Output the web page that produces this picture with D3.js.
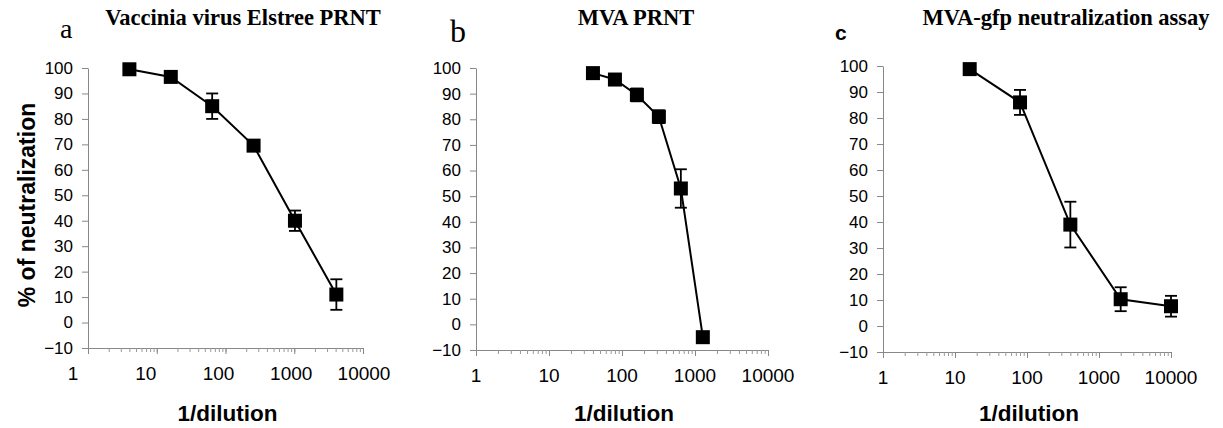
<!DOCTYPE html>
<html>
<head>
<meta charset="utf-8">
<script src="https://cdn.jsdelivr.net/npm/d3@7"></script>
<style>
body { margin: 0; background: #fff; }
</style>
</head>
<body>
<div id="chart"></div>
<script>
// panel a - vaccinia Elstree PRNT
var dilA = [4, 16, 64, 256, 1024, 4096];
var neutA = [99.5, 96.5, 85, 69.5, 40, 11];
var errA = [0, 1, 5, 1.5, 4, 6];

// panel b - MVA PRNT
var dilB = [40, 80, 160, 320, 640, 1280];
var neutB = [98, 95.5, 89.5, 81, 53, -5];
var errB = [1, 1, 2.5, 2.5, 7.5, 0];

// panel c - MVA-gfp assay
var dilC = [16, 80, 400, 2000, 10000];
var neutC = [98.8, 86, 39, 10.3, 7.6];
var errC = [0.5, 4.8, 8.8, 4.6, 4];

var xTicks = [1, 10, 100, 1000, 10000];
var yTicks = [-10, 0, 10, 20, 30, 40, 50, 60, 70, 80, 90, 100];
var titles = ["Vaccinia virus Elstree PRNT", "MVA PRNT", "MVA-gfp neutralization assay"];
var letters = ["a", "b", "c"];

var width = 1223;
var height = 428;

var panels = [
    { dil: dilA, val: neutA, err: errA, x0: 88, x1: 363, y0: 348, y1: 68, lab: [73, 364],
      tx: 243, lx: 60, ly: 38, lfont: "Liberation Serif", lsize: 28, lweight: "normal" },
    { dil: dilB, val: neutB, err: errB, x0: 476, x1: 768, y0: 350, y1: 68, lab: [476, 768],
      tx: 636, lx: 450, ly: 42, lfont: "Liberation Serif", lsize: 32, lweight: "normal" },
    { dil: dilC, val: neutC, err: errC, x0: 883, x1: 1171, y0: 352, y1: 66, lab: [883, 1171],
      tx: 1066, lx: 835, ly: 40, lfont: "Liberation Sans", lsize: 21, lweight: "bold" }
];

var svg = d3.select("#chart").append("svg")
    .attr("width", width)
    .attr("height", height)
    .style("font-family", "Liberation Sans, Arial, sans-serif");

function drawPanel(p, i) {
    var x = d3.scaleLog().domain([1, 10000]).range([p.x0, p.x1]);
    var xl = d3.scaleLog().domain([1, 10000]).range(p.lab);
    var y = d3.scaleLinear().domain([-10, 100]).range([p.y0, p.y1]);

    var pts = p.dil.map(function (d, k) { return { d: d, v: p.val[k], e: p.err[k] }; });

    // minor ticks
    svg.append("g")
        .attr("transform", `translate(0,${p.y0})`)
        .call(d3.axisBottom(x).tickValues(x.ticks()).tickSize(4).tickFormat(""))
        .call(g => g.selectAll("line").attr("stroke", "#999"))
        .call(g => g.select(".domain").attr("stroke", "#888"));

    svg.append("g")
        .attr("transform", `translate(0,${p.y0})`)
        .call(d3.axisBottom(x).tickValues(xTicks).tickSize(6).tickSizeOuter(0).tickFormat(""))
        .call(g => g.selectAll("line").attr("stroke", "#888"))
        .call(g => g.select(".domain").remove());

    svg.append("g").selectAll("text")
        .data(xTicks)
        .enter().append("text")
        .attr("x", d => xl(d))
        .attr("y", p.y0 + 32)
        .attr("text-anchor", "middle")
        .attr("font-size", 19)
        .attr("fill", "#000")
        .text(d => d);

    svg.append("g")
        .attr("transform", `translate(${p.x0},0)`)
        .call(d3.axisLeft(y).tickValues(yTicks).tickSize(6).tickSizeOuter(0).tickPadding(9))
        .call(g => g.selectAll("line").attr("stroke", "#888"))
        .call(g => g.select(".domain").attr("stroke", "#888"))
        .call(g => g.selectAll("text")
            .attr("font-family", "Liberation Sans, Arial, sans-serif")
            .attr("font-size", 17)
            .attr("fill", "#000"));

    svg.append("path")
        .datum(pts)
        .attr("fill", "none")
        .attr("stroke", "#000")
        .attr("stroke-width", 2)
        .attr("d", d3.line()
            .x(function (d) { return x(d.d) })
            .y(function (d) { return y(d.v) })
        );

    var eb = svg.append("g").attr("stroke", "#000").attr("stroke-width", 1.8);
    pts.filter(d => d.e > 0).forEach(function (d) {
        var cx = x(d.d);
        eb.append("line").attr("x1", cx).attr("x2", cx)
            .attr("y1", y(d.v - d.e)).attr("y2", y(d.v + d.e));
        eb.append("line").attr("x1", cx - 6).attr("x2", cx + 6)
            .attr("y1", y(d.v + d.e)).attr("y2", y(d.v + d.e));
        eb.append("line").attr("x1", cx - 6).attr("x2", cx + 6)
            .attr("y1", y(d.v - d.e)).attr("y2", y(d.v - d.e));
    });

    svg.append("g").selectAll("rect")
        .data(pts)
        .enter().append("rect")
        .attr("x", d => x(d.d) - 7)
        .attr("y", d => y(d.v) - 7)
        .attr("width", 14)
        .attr("height", 14)
        .attr("fill", "#000");

    svg.append("text")
        .attr("x", p.tx)
        .attr("y", 25)
        .attr("text-anchor", "middle")
        .attr("font-family", "Liberation Serif, Times New Roman, serif")
        .attr("font-weight", "bold")
        .attr("font-size", 22.5)
        .text(titles[i]);

    svg.append("text")
        .attr("x", p.lx)
        .attr("y", p.ly)
        .attr("font-family", p.lfont)
        .attr("font-weight", p.lweight)
        .attr("font-size", p.lsize)
        .text(letters[i]);

    svg.append("text")
        .attr("x", (p.x0 + p.x1) / 2 + 2)
        .attr("y", 421)
        .attr("text-anchor", "middle")
        .attr("font-weight", "bold")
        .attr("font-size", 22.5)
        .text("1/dilution");
}

panels.forEach(drawPanel);

svg.append("text")
    .attr("transform", "translate(35,205) rotate(-90)")
    .attr("text-anchor", "middle")
    .attr("font-weight", "bold")
    .attr("font-size", 23)
    .text("% of neutralization");
</script>
</body>
</html>
